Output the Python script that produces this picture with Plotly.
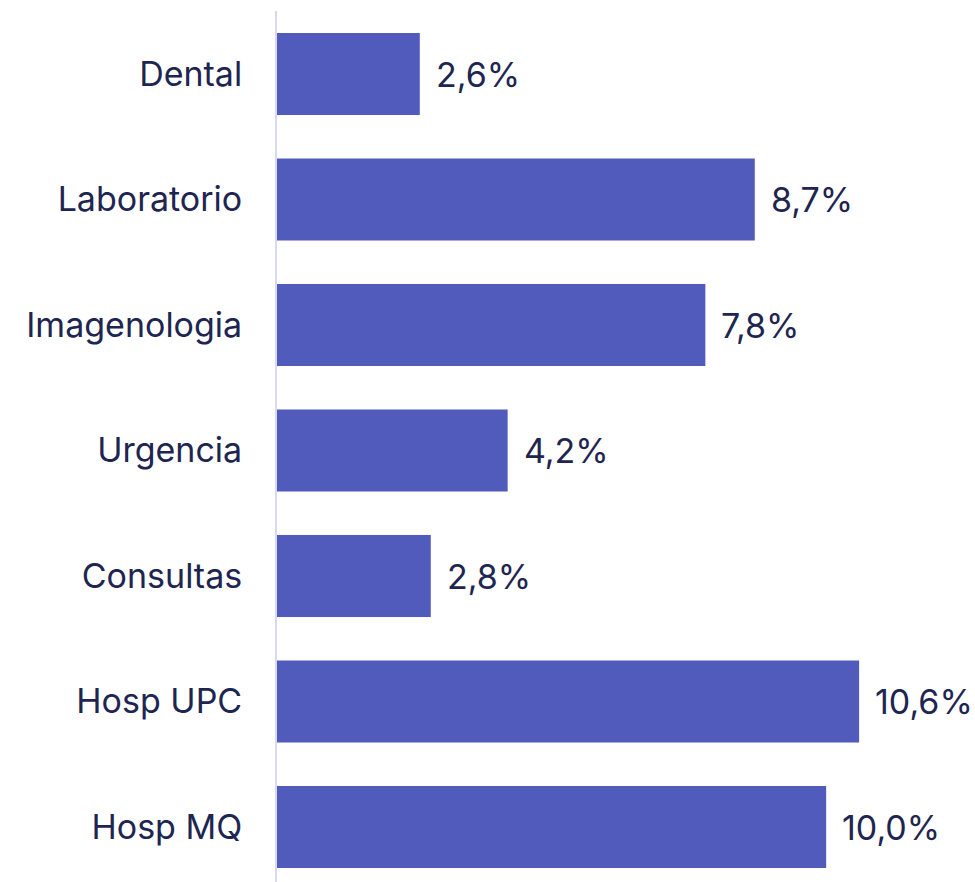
import plotly.graph_objects as go

# Share of spending by service category (%)
categories = ["Dental", "Laboratorio", "Imagenologia", "Urgencia", "Consultas", "Hosp UPC", "Hosp MQ"]
values = [2.6, 8.7, 7.8, 4.2, 2.8, 10.6, 10.0]
labels = ["2,6%", "8,7%", "7,8%", "4,2%", "2,8%", "10,6%", "10,0%"]

BAR_COLOR = "#505bbb"
TEXT_COLOR = "#1e2550"
FONT = "Inter, 'Open Sans', sans-serif"
FONT_SIZE = 34

fig = go.Figure(
    go.Bar(
        x=values,
        y=categories,
        orientation="h",
        marker=dict(color=BAR_COLOR, line=dict(width=0)),
        width=0.653,
        hoverinfo="skip",
    )
)

# value labels placed just past the end of each bar
for cat, val, lab in zip(categories, values, labels):
    fig.add_annotation(
        x=val, y=cat, text=lab, showarrow=False,
        xanchor="left", yanchor="middle", xshift=14,
        font=dict(family=FONT, size=FONT_SIZE, color=TEXT_COLOR),
    )

fig.update_layout(
    width=975, height=882,
    margin=dict(l=277, r=0, t=11, b=0),
    paper_bgcolor="white", plot_bgcolor="white",
    showlegend=False,
    font=dict(family=FONT, size=FONT_SIZE, color=TEXT_COLOR),
    xaxis=dict(range=[0, 12.71], visible=False, fixedrange=True),
    yaxis=dict(
        categoryorder="array", categoryarray=categories,
        range=[6.438, -0.502],
        showline=True, linecolor="#d6d9f0", linewidth=2,
        showgrid=False, zeroline=False, ticks="",
        ticklabelstandoff=26,
        tickfont=dict(family=FONT, size=FONT_SIZE, color=TEXT_COLOR),
        fixedrange=True,
    ),
)

fig.write_html("out.html")
